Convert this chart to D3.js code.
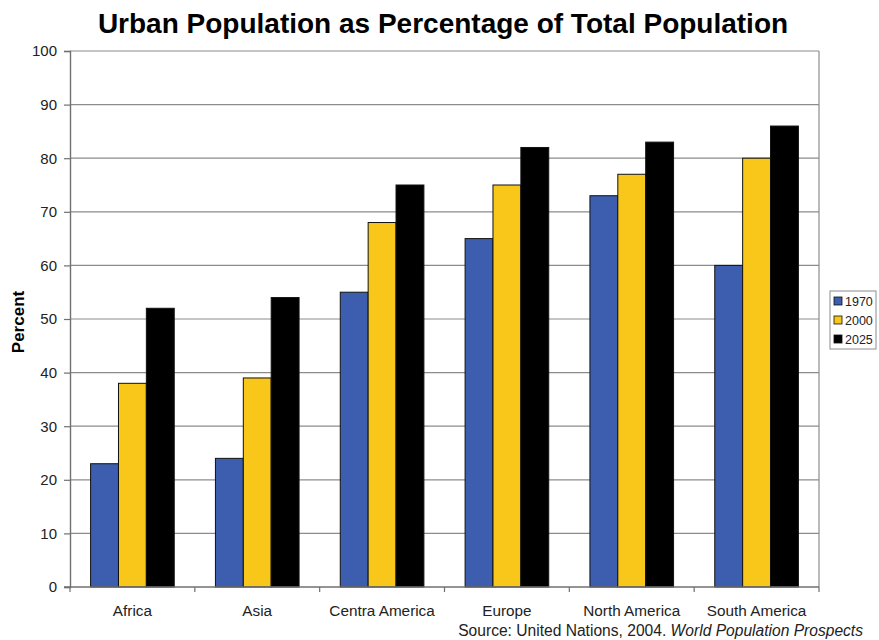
<!DOCTYPE html>
<html>
<head>
<meta charset="utf-8">
<script src="https://cdn.jsdelivr.net/npm/d3@7"></script>
<style>
  html, body { margin: 0; padding: 0; background: #fff; }
  svg { display: block; font-family: "Liberation Sans", Arial, sans-serif; }
</style>
</head>
<body>
<svg id="chart" width="879" height="640"></svg>
<script>
// Regions shown along the x axis
const regions = ["Africa", "Asia", "Centra America", "Europe", "North America", "South America"];
// Series: urban share of population (%) per region
const years = ["1970", "2000", "2025"];
const values1970 = [23, 24, 55, 65, 73, 60];
const values2000 = [38, 39, 68, 75, 77, 80];
const values2025 = [52, 54, 75, 82, 83, 86];
const yTicks = [0, 10, 20, 30, 40, 50, 60, 70, 80, 90, 100];

const seriesColors = ["#3d5eae", "#f9c71a", "#000000"];
const series = [values1970, values2000, values2025];

const svg = d3.select("#chart");
const plot = { left: 70, right: 819, top: 51, bottom: 587 };

const x = d3.scaleBand().domain(regions).range([plot.left, plot.right]).paddingInner(0.33).paddingOuter(0.165);
const xCat = d3.scaleBand().domain(regions).range([plot.left, plot.right]);
const xSub = d3.scaleBand().domain(years).range([0, x.bandwidth()]);
const y = d3.scaleLinear().domain([0, 100]).range([plot.bottom, plot.top]);

// Horizontal gridlines
svg.append("g").selectAll("line").data(yTicks.filter(d => d > 0)).join("line")
  .attr("x1", plot.left).attr("x2", plot.right)
  .attr("y1", d => y(d)).attr("y2", d => y(d))
  .attr("stroke", "#8c8c8c").attr("stroke-width", 1.2);

// Right border of plot area
svg.append("line")
  .attr("x1", plot.right).attr("x2", plot.right)
  .attr("y1", plot.top).attr("y2", plot.bottom)
  .attr("stroke", "#8c8c8c").attr("stroke-width", 1.2);

// Bars
const rows = regions.map((r, i) => ({ region: r, vals: series.map((s, k) => ({ year: years[k], v: s[i], k })) }));
svg.append("g").selectAll("g").data(rows).join("g")
  .attr("transform", d => `translate(${x(d.region)},0)`)
  .selectAll("rect").data(d => d.vals).join("rect")
  .attr("x", d => xSub(d.year))
  .attr("width", xSub.bandwidth())
  .attr("y", d => y(d.v))
  .attr("height", d => y(0) - y(d.v))
  .attr("fill", d => seriesColors[d.k])
  .attr("stroke", "#111").attr("stroke-width", 1);

// Y axis
const yAxis = svg.append("g").attr("transform", `translate(${plot.left},0)`)
  .call(d3.axisLeft(y).tickValues(yTicks).tickSize(6).tickPadding(7));
yAxis.select(".domain").attr("stroke", "#707070").attr("stroke-width", 1.4);
yAxis.selectAll(".tick line").attr("stroke", "#707070").attr("stroke-width", 1.2);
yAxis.selectAll("text").attr("font-size", 15).attr("fill", "#222")
  .attr("font-family", "'Liberation Sans', Arial, sans-serif");

// X axis with ticks at category boundaries
const xAxisG = svg.append("g").attr("transform", `translate(0,${plot.bottom})`);
xAxisG.append("line").attr("x1", plot.left - 6).attr("x2", plot.right)
  .attr("y1", 0).attr("y2", 0).attr("stroke", "#707070").attr("stroke-width", 1.4);
const bounds = regions.map(r => xCat(r)).concat([plot.right]);
xAxisG.selectAll(".bt").data(bounds).join("line").attr("class", "bt")
  .attr("x1", d => d).attr("x2", d => d).attr("y1", 0).attr("y2", 5)
  .attr("stroke", "#707070").attr("stroke-width", 1.2);
xAxisG.selectAll(".lab").data(regions).join("text").attr("class", "lab")
  .attr("x", d => xCat(d) + xCat.bandwidth() / 2).attr("y", 29)
  .attr("text-anchor", "middle").attr("font-size", 15.3).attr("fill", "#222")
  .text(d => d);

// Title
svg.append("text").attr("x", 443).attr("y", 33).attr("text-anchor", "middle")
  .attr("font-size", 28).attr("font-weight", "bold").attr("fill", "#000")
  .text("Urban Population as Percentage of Total Population");

// Y axis title
svg.append("text").attr("transform", "translate(24,322) rotate(-90)")
  .attr("text-anchor", "middle").attr("font-size", 17).attr("font-weight", "bold")
  .text("Percent");

// Legend
const lg = svg.append("g").attr("transform", "translate(830,291)");
lg.append("rect").attr("width", 46).attr("height", 58)
  .attr("fill", "#fff").attr("stroke", "#8c8c8c").attr("stroke-width", 1);
const items = lg.selectAll("g").data(years).join("g")
  .attr("transform", (d, i) => `translate(4,${10 + i * 19})`);
items.append("rect").attr("x", 0).attr("y", -4).attr("width", 8).attr("height", 8)
  .attr("fill", (d, i) => seriesColors[i]).attr("stroke", "#111").attr("stroke-width", 0.8);
items.append("text").attr("x", 11).attr("y", 4.5).attr("font-size", 12.5).attr("fill", "#222")
  .text(d => d);

// Source note
const src = svg.append("text").attr("x", 863).attr("y", 636).attr("text-anchor", "end")
  .attr("font-size", 15.6).attr("fill", "#222");
src.append("tspan").text("Source: United Nations, 2004. ");
src.append("tspan").attr("font-style", "italic").text("World Population Prospects");
</script>
</body>
</html>
